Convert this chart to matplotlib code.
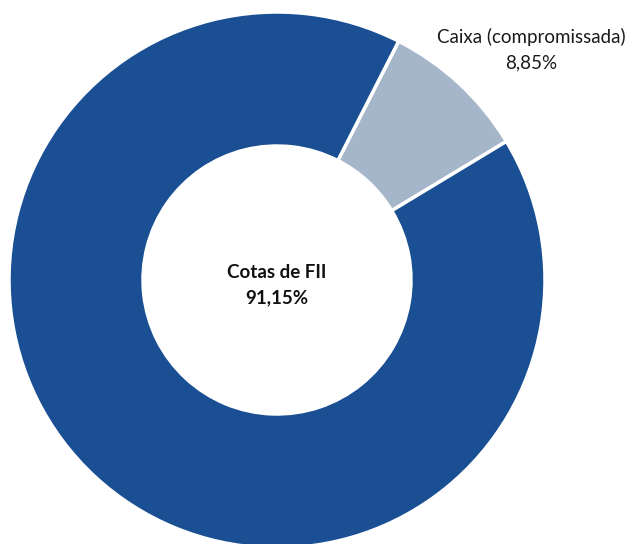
import matplotlib.pyplot as plt

# composição da carteira
labels = ['Caixa (compromissada)', 'Cotas de FII']
values = [8.85, 91.15]
colors = ['#a6b6ca', '#1a4f94']

plt.rcParams['font.family'] = ['Lato', 'DejaVu Sans']

fig = plt.figure(figsize=(6.34, 5.44), dpi=100)
ax = fig.add_axes([0, 0, 1, 1])

wedges, _ = ax.pie(
    values,
    colors=colors,
    startangle=63,
    counterclock=False,
    radius=1.0,
    wedgeprops=dict(width=0.5, edgecolor='white', linewidth=2.5),
)

# rótulos
ax.text(0.948, 0.86, f"{labels[0]}\n{values[0]:.2f}%".replace('.', ','),
        ha='center', va='center', fontsize=13.5, color='#1a1a1a', linespacing=1.6)
ax.text(0, -0.02, f"{labels[1]}\n{values[1]:.2f}%".replace('.', ','),
        ha='center', va='center', fontsize=13.5, fontweight='bold',
        color='#111111', linespacing=1.6)

r = 268.0
ax.set_xlim(-277 / r, (634 - 277) / r)
ax.set_ylim(-264 / r, 280 / r)
ax.set_aspect('auto')
ax.axis('off')

fig.savefig('out.png', dpi=100)
